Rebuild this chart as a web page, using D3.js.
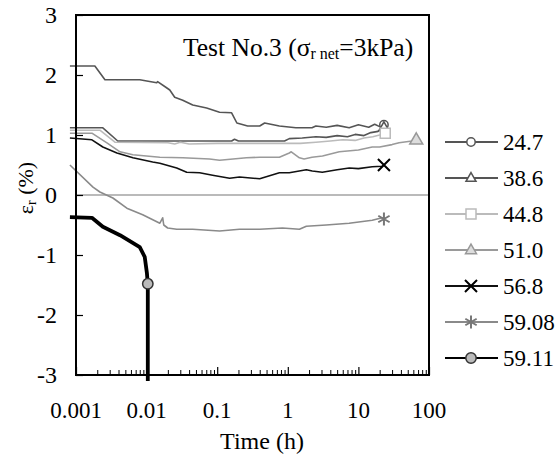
<!DOCTYPE html>
<html><head><meta charset="utf-8">
<script src="https://cdn.jsdelivr.net/npm/d3@7"></script>
<style>
html,body{margin:0;padding:0;background:#fff;}
svg{display:block;}
text{font-family:'Liberation Serif','Tinos','Times New Roman','Times','DejaVu Serif',serif;}
</style></head>
<body><svg id="c" width="557" height="461"></svg>
<script>
// ---- data ----
const xTicks = [0.001, 0.01, 0.1, 1, 10, 100];
const xTickLabels = ["0.001", "0.01", "0.1", "1", "10", "100"];
const yTicks = [-3, -2, -1, 0, 1, 2, 3];
const legendLabels = ["24.7", "38.6", "44.8", "51.0", "56.8", "59.08", "59.11"];

const tA = [0.00082,0.00185,0.00257,0.008,0.0139,0.0143,0.0185,0.0213,0.025,0.0325,0.045,0.0708,0.108,0.16,0.19,0.27,0.4,0.47,0.76,1.3,2.2,2.5,3.5,5,7.4,10,14,17,20,23];
const vA = [2.15,2.15,1.92,1.92,1.87,1.89,1.8,1.75,1.63,1.58,1.5,1.45,1.38,1.37,1.2,1.15,1.15,1.2,1.15,1.12,1.12,1.15,1.13,1.16,1.12,1.17,1.13,1.18,1.14,1.17];

const tB = [0.00082,0.0024,0.0039,0.05,0.16,0.176,0.2,0.9,1.05,1.6,2.5,3.5,5,7,9,12,15,19,23];
const vB = [1.12,1.12,0.9,0.9,0.9,0.93,0.9,0.9,0.94,0.95,0.97,0.96,0.99,0.97,1.01,0.99,1.04,1.06,1.13];

const tC = [0.00082,0.00218,0.00356,0.02,0.025,0.03,0.04,0.1,0.5,1.5,2.5,4,6,9,12,16,20,24];
const vC = [1.08,1.08,0.88,0.87,0.85,0.88,0.85,0.86,0.86,0.86,0.88,0.9,0.92,0.91,0.95,0.97,1.0,1.03];

const tD = [0.00082,0.00168,0.00274,0.0042,0.0064,0.0154,0.0325,0.078,0.108,0.26,0.4,0.76,1.05,1.12,1.46,1.7,2.2,3.1,5.36,10,15.7,20,30,37.7,57.5,66];
const vD = [1.03,1.03,0.87,0.72,0.67,0.63,0.62,0.6,0.58,0.62,0.63,0.63,0.7,0.72,0.62,0.6,0.63,0.65,0.72,0.75,0.8,0.8,0.84,0.87,0.9,0.92];

const tE = [0.00082,0.00168,0.0024,0.0038,0.0064,0.0122,0.0154,0.0267,0.037,0.0564,0.086,0.15,0.207,0.4,0.76,1.05,1.83,2.22,3.08,5,7.42,10,15.7,21.7,23];
const vE = [0.95,0.92,0.8,0.7,0.62,0.55,0.53,0.45,0.38,0.37,0.33,0.28,0.3,0.27,0.37,0.37,0.42,0.4,0.38,0.42,0.45,0.44,0.47,0.48,0.5];

const tF = [0.00082,0.00174,0.00218,0.00333,0.00525,0.0088,0.0154,0.0169,0.0175,0.0199,0.0267,0.045,0.108,0.207,0.4,0.84,1.46,1.83,3.5,7.4,15.7,21.7,23];
const vF = [0.5,0.13,0.05,-0.05,-0.22,-0.33,-0.47,-0.38,-0.5,-0.55,-0.57,-0.57,-0.6,-0.57,-0.57,-0.55,-0.57,-0.52,-0.5,-0.47,-0.42,-0.38,-0.4];

const tG = [0.00082,0.00168,0.0024,0.0042,0.008,0.0094,0.0101,0.0104,0.0104];
const vG = [-0.37,-0.38,-0.53,-0.67,-0.87,-1.03,-1.3,-1.48,-3.1];

// marker positions (one per series)
const markT = [23, 23, 24, 66, 23, 23, 0.0104];
const markV = [1.17, 1.13, 1.03, 0.92, 0.5, -0.4, -1.48];

// ---- styles ----
const styles = [
  {stroke:"#555", w:1.6, sym:"circle",   fill:"#fff", ms:"#555"},
  {stroke:"#555", w:1.6, sym:"triangle", fill:"#fff", ms:"#555"},
  {stroke:"#bbb", w:1.6, sym:"square",   fill:"#fff", ms:"#bbb"},
  {stroke:"#9a9a9a", w:1.6, sym:"triangle", fill:"#ddd", ms:"#999"},
  {stroke:"#111", w:1.6, sym:"x",        fill:"none", ms:"#000"},
  {stroke:"#8a8a8a", w:1.6, sym:"asterisk", fill:"none", ms:"#777"},
  {stroke:"#000", w:3.8, sym:"circle2",  fill:"#bbb", ms:"#333"}
];
const seriesT = [tA,tB,tC,tD,tE,tF,tG];
const seriesV = [vA,vB,vC,vD,vE,vF,vG];

const svg = d3.select("#c");
const x = d3.scaleLog().domain([0.001,100]).range([76,429]);
const y = d3.scaleLinear().domain([-3,3]).range([375,15]);

function symPath(type, s){
  switch(type){
    case "circle": return d3.symbol(d3.symbolCircle, Math.PI*4.2*4.2)();
    case "circle2": return d3.symbol(d3.symbolCircle, Math.PI*5.2*5.2)();
    case "square": return `M${-s/2},${-s/2}h${s}v${s}h${-s}Z`;
    case "triangle": { const h = s*0.87; return `M0,${-h*0.62}L${s/2},${h*0.38}L${-s/2},${h*0.38}Z`; }
    case "x": { const a=s/2; return `M${-a},${-a}L${a},${a}M${-a},${a}L${a},${-a}`; }
    case "asterisk": { const a=s/2; return `M0,${-a}V${a}M${-a*0.87},${-a*0.5}L${a*0.87},${a*0.5}M${-a*0.87},${a*0.5}L${a*0.87},${-a*0.5}`; }
  }
}
const symSize = [8.5, 10, 10, 13, 12, 13, 10];

// zero line
svg.append("line").attr("x1",x(0.001)).attr("x2",x(100)).attr("y1",y(0)).attr("y2",y(0))
  .attr("stroke","#777").attr("stroke-width",1.2);

// series lines
const line = d3.line().x(d=>x(d[0])).y(d=>y(d[1]));
seriesT.forEach((ts,i)=>{
  const pts = ts.map((t,j)=>[t, seriesV[i][j]]);
  svg.append("path").attr("d", line(pts)).attr("fill","none")
    .attr("stroke", styles[i].stroke).attr("stroke-width", styles[i].w)
    .attr("stroke-linejoin","round");
});

// frame
svg.append("rect").attr("x",x(0.001)).attr("y",y(3)).attr("width",x(100)-x(0.001)).attr("height",y(-3)-y(3))
  .attr("fill","none").attr("stroke","#000").attr("stroke-width",2);

// y ticks (inward)
const gy = svg.append("g").attr("transform",`translate(${x(0.001)},0)`)
  .call(d3.axisRight(y).tickValues(yTicks).tickSize(7).tickFormat(""));
gy.select(".domain").remove();
gy.selectAll("line").attr("stroke","#000").attr("stroke-width",1.2);
svg.append("g").selectAll("text").data(yTicks).join("text")
  .attr("x",57).attr("y",d=>y(d)).attr("dy","0.35em").attr("text-anchor","end")
  .attr("font-size",24).attr("fill","#000").text(d=>d);

// x ticks (inward, upward), majors + minors
const minor = [];
for (let e=-3; e<2; e++) for (let m=2; m<=9; m++) minor.push(m*Math.pow(10,e));
const gxm = svg.append("g").attr("transform",`translate(0,${y(-3)})`)
  .call(d3.axisTop(x).tickValues(minor).tickSize(5).tickFormat(""));
gxm.select(".domain").remove();
gxm.selectAll("line").attr("stroke","#000").attr("stroke-width",1);
const gxM = svg.append("g").attr("transform",`translate(0,${y(-3)})`)
  .call(d3.axisTop(x).tickValues(xTicks).tickSize(8).tickFormat(""));
gxM.select(".domain").remove();
gxM.selectAll("line").attr("stroke","#000").attr("stroke-width",1.2);
svg.append("g").selectAll("text").data(xTicks).join("text")
  .attr("x",d=>x(d)).attr("y",y(-3)+43).attr("text-anchor","middle")
  .attr("font-size",23).attr("fill","#000").text((d,i)=>xTickLabels[i]);

// markers in plot
styles.forEach((s,i)=>{
  svg.append("path").attr("d", symPath(s.sym, symSize[i]))
    .attr("transform",`translate(${x(markT[i])},${y(markV[i])})`)
    .attr("fill", s.fill).attr("stroke", s.ms).attr("stroke-width", s.sym==="x"||s.sym==="asterisk"?2:1.5);
});

// axis titles
svg.append("text").attr("x",262).attr("y",449).attr("text-anchor","middle")
  .attr("font-size",24).text("Time (h)");
const yl = svg.append("text").attr("transform","translate(33,188) rotate(-90)").attr("text-anchor","middle")
  .attr("font-size",22);
yl.append("tspan").text("ε");
yl.append("tspan").attr("font-size",14).attr("dy",3).text("r");
yl.append("tspan").attr("dy",-3).text(" (%)");

// title
const tt = svg.append("text").attr("x",183).attr("y",56).attr("font-size",25.5);
tt.append("tspan").text("Test No.3 (σ");
tt.append("tspan").attr("font-size",16).attr("dy",3).text("r net");
tt.append("tspan").attr("dy",-3).text("=3kPa)");

// legend
const lg = svg.append("g");
legendLabels.forEach((lab,i)=>{
  const ly = 142 + i*36;
  const s = styles[i];
  lg.append("line").attr("x1",445).attr("x2",498).attr("y1",ly).attr("y2",ly)
    .attr("stroke", i===6 ? "#000" : s.stroke).attr("stroke-width",1.8);
  lg.append("path").attr("d", symPath(s.sym, i===3?11:symSize[i]))
    .attr("transform",`translate(471,${ly})`)
    .attr("fill", s.fill).attr("stroke", s.ms).attr("stroke-width", s.sym==="x"||s.sym==="asterisk"?2:1.5);
  lg.append("text").attr("x",503).attr("y",ly).attr("dy","0.35em")
    .attr("font-size",23).text(lab);
});
</script></body></html>
